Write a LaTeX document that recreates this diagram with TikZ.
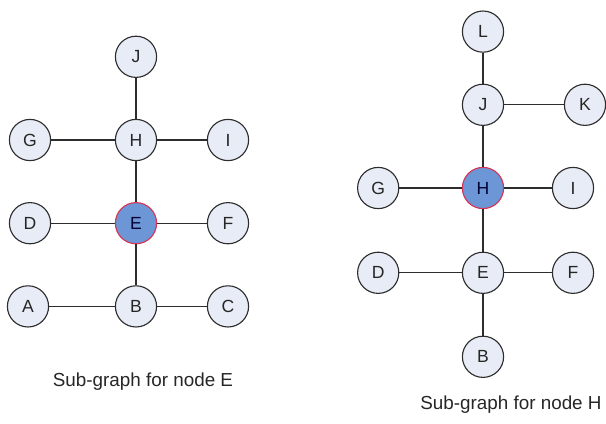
\documentclass[tikz,border=0pt]{standalone}
\usepackage{fontspec}
\setmainfont{Liberation Sans}
\usepackage{xcolor}
\usepackage{tikz}
\usetikzlibrary{positioning}
\definecolor{nodefill}{RGB}{232,236,246}
\definecolor{focusfill}{RGB}{108,150,214}
\definecolor{focusline}{RGB}{214,52,84}
\definecolor{edgegray}{RGB}{45,45,45}
\tikzstyle{vertex} = [circle, minimum size=1.03cm, inner sep=0pt, text centered, draw=edgegray, line width=0.8pt, fill=nodefill, font=\fontsize{12.5}{14}\selectfont, text=black!85]
\tikzstyle{focus} = [vertex, draw=focusline, fill=focusfill, text=black!80!blue]
\tikzstyle{edge} = [draw=edgegray, line width=0.8pt]
\tikzstyle{caption} = [font=\fontsize{13.4}{15}\selectfont, text=black!85]

\begin{document}
\begin{tikzpicture}[node distance=2.08cm]
        \useasboundingbox (0,0) rectangle (15.15,-10.6);

        % Nodes, sub-graph for E
        \node (H1) [vertex] at (3.4,-3.5) {H};
        \node (J1) [vertex, above of=H1] {J};
        \node (E1) [focus, below of=H1] {E};
        \node (B1) [vertex, below of=E1] {B};
        \node (G1) [vertex, left of=H1, xshift=-0.57cm] {G};
        \node (I1) [vertex, right of=H1, xshift=0.22cm] {I};
        \node (D1) [vertex, left of=E1, xshift=-0.57cm] {D};
        \node (F1) [vertex, right of=E1, xshift=0.22cm] {F};
        \node (A1) [vertex, left of=B1, xshift=-0.62cm] {A};
        \node (C1) [vertex, right of=B1, xshift=0.22cm] {C};
        \node (capE) [caption] at (3.575,-9.55) {Sub-graph for node E};

        % Nodes, sub-graph for H
        \node (H2) [focus] at (12.075,-4.7) {H};
        \node (J2) [vertex, above of=H2] {J};
        \node (L2) [vertex, above of=J2, yshift=-0.25cm] {L};
        \node (K2) [vertex, right of=J2, xshift=0.47cm] {K};
        \node (G2) [vertex, left of=H2, xshift=-0.54cm] {G};
        \node (I2) [vertex, right of=H2, xshift=0.17cm] {I};
        \node (E2) [vertex, below of=H2, yshift=-0.04cm] {E};
        \node (B2) [vertex, below of=E2, yshift=-0.02cm] {B};
        \node (D2) [vertex, left of=E2, xshift=-0.54cm] {D};
        \node (F2) [vertex, right of=E2, xshift=0.17cm] {F};
        \node (capH) [caption] at (12.775,-10.125) {Sub-graph for node H};

        % Edges
        \draw [edge] (J1) -- (H1);
        \draw [edge] (G1) -- (H1);
        \draw [edge] (H1) -- (I1);
        \draw [edge] (H1) -- (E1);
        \draw [edge] (D1) -- (E1);
        \draw [edge] (E1) -- (F1);
        \draw [edge] (E1) -- (B1);
        \draw [edge] (A1) -- (B1);
        \draw [edge] (B1) -- (C1);

        \draw [edge] (L2) -- (J2);
        \draw [edge] (J2) -- (K2);
        \draw [edge] (J2) -- (H2);
        \draw [edge] (G2) -- (H2);
        \draw [edge] (H2) -- (I2);
        \draw [edge] (H2) -- (E2);
        \draw [edge] (D2) -- (E2);
        \draw [edge] (E2) -- (F2);
        \draw [edge] (E2) -- (B2);
    \end{tikzpicture}
\end{document}
